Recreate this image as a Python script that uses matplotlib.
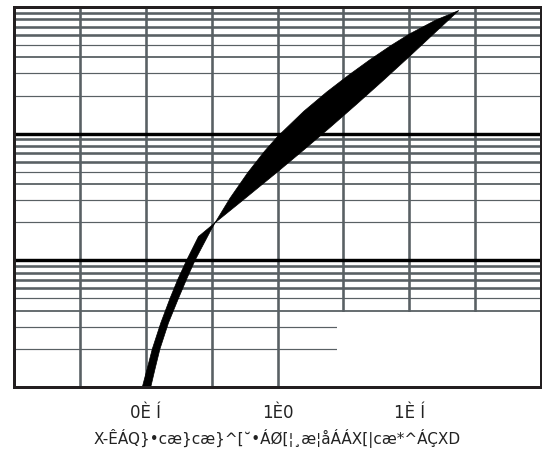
import matplotlib
matplotlib.use("Agg")
import matplotlib.pyplot as plt

# bande noire : bord gauche (haut) puis bord droit (bas)
gauche_x = [0.487, 0.506, 0.525, 0.557, 0.592, 0.622, 0.655, 0.700, 0.763, 0.820, 0.887, 0.950,
            1.000, 1.100, 1.187, 1.270, 1.351, 1.430, 1.500, 1.600, 1.688]
gauche_y = [1.0, 1.41, 2.0, 3.2, 5.0, 7.1, 10.0, 15.4, 19.8, 31.0, 49.2, 72.3,
            94.8, 150.3, 213.3, 289.7, 383.7, 495.5, 610.9, 787.0, 938.0]
droite_x = [0.519, 0.536, 0.554, 0.586, 0.624, 0.655, 0.687, 0.744, 0.763, 0.865, 1.000,
            1.100, 1.200, 1.300, 1.400, 1.500, 1.600, 1.688]
droite_y = [1.0, 1.41, 2.0, 3.2, 5.0, 7.1, 10.0, 16.8, 19.8, 29.4, 49.9,
            74.5, 112.2, 170.6, 261.8, 405.5, 633.9, 938.0]

grille_x = [0.25, 0.5, 0.75, 1.0, 1.25, 1.5, 1.75]
decades = [1, 10, 100]
ticks_x = [0.5, 1.0, 1.5]
labels_x = [u"0È Í", u"1È0", u"1È Í"]
legende_x = u"X-ÊÁQ}•cæ}cæ}^[˘•ÁØ[¦¸æ¦åÁÁX[|cæ*^ÁÇXD"

# zone blanche en bas a droite
blanc_x = [1.226, 2.0]
blanc_y = [1.0, 3.9]

GRIS = "#596064"
NOIR = "#231f20"

px = 0.72  # 1 pixel en points a 100 dpi
epaisseur = {2: 1.2, 3: 1.2, 4: 1.8, 5: 1.2, 6: 2.6, 7: 2.6, 8: 2.6, 9: 2.6}

fig = plt.figure(figsize=(5.42, 4.61), dpi=100)
ax = fig.add_axes([14 / 542.0, (461 - 387) / 461.0, 527 / 542.0, 380 / 461.0])
ax.set_yscale("log")
ax.set_xlim(0, 2)
ax.set_ylim(1, 1000)

for x in grille_x:
    ax.axvline(x, color=GRIS, lw=2.6 * px, zorder=1)
for d in decades:
    for m in range(2, 10):
        ax.axhline(d * m, color=GRIS, lw=epaisseur[m] * px, zorder=1)
for d in decades[1:]:
    ax.axhline(d, color="black", lw=3.4 * px, zorder=1.5)

ax.fill_between(blanc_x, blanc_y[0], blanc_y[1], color="white", lw=0, zorder=2)

ax.fill(gauche_x + droite_x[::-1], gauche_y + droite_y[::-1], color="black", lw=0.5, zorder=3)

for s in ax.spines.values():
    s.set_color(NOIR)
    s.set_linewidth(3 * px)
    s.set_zorder(4)

ax.set_yticks([])
ax.minorticks_off()
ax.set_yticks([], minor=True)
ax.set_xticks(ticks_x)
ax.set_xticklabels(labels_x, family="DejaVu Sans", fontsize=12, color="#222222")
ax.tick_params(axis="x", length=0, pad=12)
ax.set_xlabel(legende_x, family="DejaVu Sans", fontsize=11, color="#222222", labelpad=5)

fig.savefig("out.png", dpi=100)
